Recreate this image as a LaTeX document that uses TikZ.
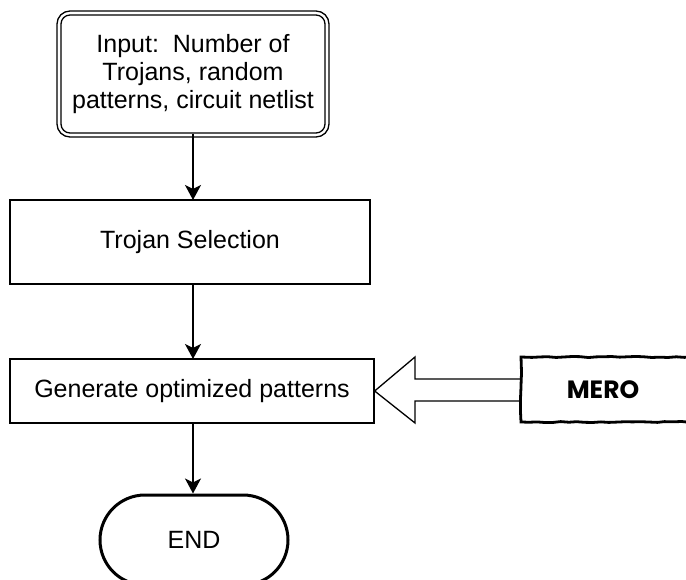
\documentclass[tikz,border=0pt]{standalone}
\usepackage{fontspec}
\setmainfont{Liberation Sans}
\newfontfamily\merofont{Poppins}
\usetikzlibrary{arrows.meta,calc,decorations.pathmorphing}
\begin{document}
\begin{tikzpicture}[x=1pt,y=-1pt,
  box/.style={draw,line width=1.3pt,inner sep=0pt,font=\fontsize{25}{28}\selectfont},
  flow/.style={draw,line width=1.3pt,-{Stealth[length=15pt,width=16pt,inset=4pt]}},
  txt/.style={font=\fontsize{25}{28}\selectfont,align=center}]
\useasboundingbox (0,0) rectangle (686,580);
\clip (0,0) rectangle (686,580);
% input box (double rounded border)
\draw[line width=1.3pt,rounded corners=13pt] (57,11) rectangle (329,137);
\node[draw,line width=1.3pt,rounded corners=9pt,minimum width=264pt,minimum height=118pt,inner sep=0pt,txt] (inp) at (193,74)
  {Input:\ \ Number of\\Trojans, random\\patterns, circuit netlist};
% Trojan Selection
\node[box,minimum width=360pt,minimum height=84pt] (sel) at (190,242) {Trojan Selection};
% Generate optimized patterns
\node[box,minimum width=364pt,minimum height=64pt] (gen) at (192,391) {Generate optimized patterns};
% END
\node[draw,line width=3pt,rounded corners=45pt,minimum width=188pt,minimum height=90pt,inner sep=0pt,txt] (end) at (194,540) {END};
% MERO
\draw[line width=2.8pt,decorate,decoration={random steps,segment length=8pt,amplitude=0.6pt}]
  (700,357) -- (521,357) -- (521,422) -- (700,422);
\node[inner sep=0pt,minimum width=165pt,minimum height=65pt,font=\merofont\bfseries\fontsize{25}{28}\selectfont] (mero) at (603,390) {MERO};
% connectors
\draw[flow] (inp.south -| 193,0) -- (193,200);
\draw[flow] (193,284) -- (193,359);
\draw[flow] (193,423) -- (end.north -| 193,0);
% block arrow
\draw[line width=1.3pt,line join=miter]
  (mero.west |- 0,379) -- (415,379) -- (415,357) -- (gen.east) -- (415,423) -- (415,401) -- (mero.west |- 0,401);
\end{tikzpicture}
\end{document}
